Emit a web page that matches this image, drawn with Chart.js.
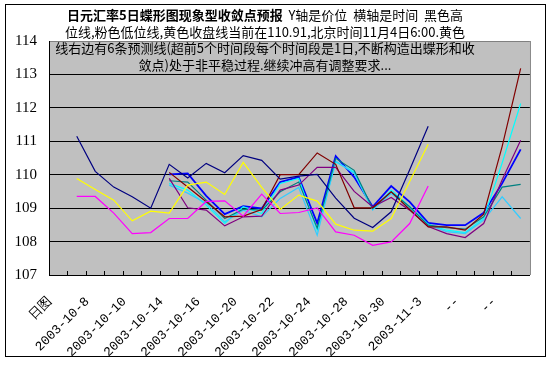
<!DOCTYPE html>
<html>
<head>
<meta charset="utf-8">
<script src="https://cdn.jsdelivr.net/npm/chart.js@4"></script>
<style>
  body { margin: 0; background: #fff; }
  #wrap { position: relative; width: 551px; height: 365px; }
  #frame { position: absolute; left: 5px; top: 4px; width: 539px; height: 351px; border: 1px solid #000; pointer-events: none; }
  #title {
    position: absolute; left: 0; top: 7px; width: 530px;
    text-align: center; white-space: pre;
    font: 13px "Noto Sans CJK SC", sans-serif; line-height: 16.5px; color: #000;
  }
</style>
</head>
<body>
<div id="wrap">
  <canvas id="chart" width="551" height="365"></canvas>
  <div id="frame"></div>
  <div id="title"><b>日元汇率5日蝶形图现象型收敛点预报</b>  Y轴是价位  横轴是时间  黑色高
位线,粉色低位线,黄色收盘线当前在110.91,北京时间11月4日6:00.黄色
线右边有6条预测线(超前5个时间段每个时间段是1日,不断构造出蝶形和收
敛点)处于非平稳过程.继续冲高有调整要求...</div>
</div>
<script>
// categories (only every other one is labelled on the axis)
const categories = ['日图', '2003-10-7', '2003-10-8', '2003-10-9', '2003-10-10', '2003-10-13',
  '2003-10-14', '2003-10-15', '2003-10-16', '2003-10-17', '2003-10-20', '2003-10-21',
  '2003-10-22', '2003-10-23', '2003-10-24', '2003-10-27', '2003-10-28', '2003-10-29',
  '2003-10-30', '2003-10-31', '2003-11-3', '--', '--', '--', '--', '--'];

// high / low / close
const highLine = [null, 111.15, 110.10, 109.63, 109.34, 109.00, 110.31, 109.90, 110.34, 110.06,
  110.57, 110.43, 109.87, 109.96, 110.01, 109.30, 108.70, 108.42, 108.89, 110.15, 111.45,
  null, null, null, null, null];
const lowLine = [null, 109.35, 109.35, 108.85, 108.24, 108.27, 108.69, 108.69, 109.20, 109.22,
  108.76, 109.42, 108.84, 108.87, 109.01, 108.29, 108.19, 107.89, 107.99, 108.54, 109.66,
  null, null, null, null, null];
const closeLine = [null, 109.89, 109.56, 109.24, 108.62, 108.91, 108.85, 109.69, 109.78, 109.41,
  110.37, 109.62, 108.96, 109.39, 109.21, 108.52, 108.34, 108.31, 108.69, 109.80, 110.91,
  null, null, null, null, null];

// 6 forecast lines
const predRed = [null, null, null, null, null, null, 110.07, 109.63, 109.19, 108.74, 108.76, 108.96,
  110.00, 110.00, 110.65, 110.31, 109.01, 109.01, 109.49, 108.96, 108.44, 108.44, 108.34, 108.82, 110.85, 113.18];
const predTeal = [null, null, null, null, null, null, 109.82, 109.78, 109.24, 108.69, 108.97, 108.94,
  109.49, 109.78, 108.40, 110.49, 110.13, 108.99, 109.49, 109.04, 108.49, 108.42, 108.37, 108.74, 109.63, 109.71];
const predPurple = [null, null, null, null, null, null, 109.89, 109.01, 108.94, 108.47, 108.74, 108.76,
  109.54, 109.69, 110.22, 110.22, 109.50, 109.04, 109.32, 108.94, 108.45, 108.24, 108.12, 108.54, 109.85, 111.03];
const predCyan = [null, null, null, null, null, null, 109.74, 109.54, 109.09, 108.54, 109.04, 108.84,
  109.74, 109.89, 108.34, 110.38, 110.08, 108.96, 109.54, 109.04, 108.52, 108.34, 108.27, 108.69, 110.35, 112.13];
const predSky = [null, null, null, null, null, null, 109.69, 109.45, 109.15, 108.59, 108.94, 108.74,
  109.29, 109.62, 108.19, 110.41, 110.04, 108.94, 109.44, 109.00, 108.50, 108.30, 108.24, 108.64, 109.34, 108.69];
const predBlue = [null, null, null, null, null, null, 110.01, 110.04, 109.37, 108.82, 109.06, 108.99,
  109.78, 109.93, 108.55, 110.56, 109.93, 109.04, 109.66, 109.19, 108.56, 108.49, 108.49, 108.86, 109.74, 110.76];

const yTicks = [107, 108, 109, 110, 111, 112, 113, 114];

function line(data, color, width) {
  return { data: data, borderColor: color, borderWidth: width || 1.2, pointRadius: 0,
    tension: 0, fill: false, spanGaps: false };
}

// gray plot background, gray right border, inside tick marks on x axis
const plotFrame = {
  id: 'plotFrame',
  beforeDraw(chart) {
    const a = chart.chartArea, ctx = chart.ctx;
    ctx.save();
    ctx.fillStyle = '#c0c0c0';
    ctx.fillRect(a.left, a.top, a.right - a.left, a.bottom - a.top);
    ctx.restore();
  },
  afterDraw(chart) {
    const a = chart.chartArea, ctx = chart.ctx, x = chart.scales.x;
    ctx.save();
    ctx.strokeStyle = '#808080';
    ctx.lineWidth = 1;
    ctx.beginPath();
    ctx.moveTo(a.right + 0.5, a.top);
    ctx.lineTo(a.right + 0.5, a.bottom);
    ctx.stroke();
    ctx.strokeStyle = '#000';
    const half = (x.getPixelForValue(1) - x.getPixelForValue(0)) / 2;
    ctx.beginPath();
    for (let i = 1; i < categories.length; i++) {
      const px = Math.round(x.getPixelForValue(i) - half) + 0.5;
      ctx.moveTo(px, a.bottom);
      ctx.lineTo(px, a.bottom - 4);
    }
    ctx.stroke();
    ctx.restore();
  }
};

new Chart(document.getElementById('chart'), {
  type: 'line',
  data: {
    labels: categories,
    datasets: [
      line(highLine, '#000080'),
      line(lowLine, '#ff00ff'),
      line(closeLine, '#ffff00'),
      line(predRed, '#800000'),
      line(predPurple, '#800080'),
      line(predTeal, '#008080'),
      line(predSky, '#33ccff'),
      line(predCyan, '#00ffff'),
      line(predBlue, '#0000ff', 1.8)
    ]
  },
  options: {
    responsive: false,
    animation: false,
    layout: { padding: { left: 0, right: 16, top: 41, bottom: 0 } },
    plugins: { legend: { display: false }, tooltip: { enabled: false }, title: { display: false } },
    scales: {
      x: {
        offset: true,
        grid: { display: false, drawTicks: false },
        border: { display: true, color: '#000', width: 1 },
        ticks: {
          autoSkip: false,
          minRotation: 45,
          maxRotation: 45,
          padding: 19,
          labelOffset: -8,
          color: '#000',
          font: { family: 'Liberation Mono', size: 13 },
          callback: (v, i) => (i % 2 === 0 ? categories[i] : '')
        },
        afterFit: s => { s.height = 90; }
      },
      y: {
        min: yTicks[0],
        max: yTicks[yTicks.length - 1],
        afterBuildTicks: s => { s.ticks = yTicks.map(v => ({ value: v })); },
        grid: {
          drawTicks: false,
          color: c => (c.tick && c.tick.value === 114 ? '#808080' : '#000'),
          lineWidth: 1
        },
        border: { display: true, color: '#000', width: 1 },
        ticks: {
          padding: 12,
          color: '#000',
          font: { family: 'Liberation Serif', size: 15 }
        },
        afterFit: s => { s.width = 49; }
      }
    }
  },
  plugins: [plotFrame]
});
</script>
</body>
</html>
